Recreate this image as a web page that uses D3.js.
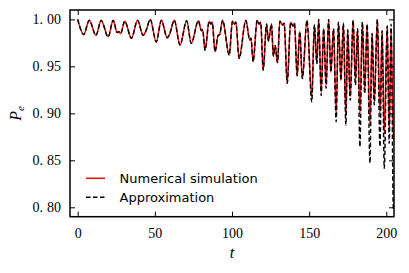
<!DOCTYPE html>
<html>
<head>
<meta charset="utf-8">
<script src="https://cdn.jsdelivr.net/npm/d3@7"></script>
<style>
  body { margin: 0; background: #fff; }
  svg { display: block; }
  .tick text { font-family: "Liberation Serif", serif; font-size: 14px; fill: #000; }
  .legend text { font-family: "DejaVu Sans", sans-serif; font-size: 13px; fill: #000; }
</style>
</head>
<body>
<svg id="chart" width="409" height="273"></svg>
<script>
// turning points (time, value)
const tPoints = [
	0, 3.9, 7.5, 11.8, 15.2, 19.7, 23.0, 25.5, 26.6, 27.8, 30.5, 34.8, 38.8, 42.4, 44.3, 47.0,
	50.9, 54.2, 58.0, 59.5, 62.6, 66.3, 70.6, 73.6, 78.2, 80.2, 81.0, 82.5, 85.2, 86.3, 87.2,
	89.0, 91.0, 92.0, 93.9, 98.2, 100.3, 101.6, 102.5, 104.6, 109.0, 111.5, 112.3, 113.7,
	116.3, 117.6, 118.6, 120.2, 122.4, 123.6, 125.6, 126.8, 128.0, 129.5, 131.0, 133.0, 133.8,
	135.8, 138.0, 139.5, 140.5, 142.2, 143.9, 145.6, 148.6, 151.7, 153.4, 155.0, 156.2, 157.8,
	159.4, 161.0, 162.6, 164.1, 165.8, 167.5, 169.0, 170.6, 172.2, 173.8, 175.0, 176.6, 178.5,
	180.0, 181.4, 182.9, 184.5, 186.0, 187.6, 189.4, 190.8, 192.2, 194.2, 195.9, 197.3, 198.7,
	200.6, 201.9, 203.1, 204.6, 205.5
];

const numerical = [
	1.000, 0.984, 0.999, 0.983, 0.999, 0.9815, 0.999, 0.986, 0.987, 0.985, 0.998, 0.980, 0.999, 0.983, 0.988, 1.000,
	0.976, 0.999, 0.9805, 0.984, 0.999, 0.9727, 0.9985, 0.9745, 0.9985, 0.988, 0.989, 0.967, 0.998, 0.995, 0.997,
	0.9655, 0.983, 0.984, 0.999, 0.962, 0.998, 0.995, 0.997, 0.9585, 0.999, 0.978, 0.980, 0.955,
	0.999, 0.995, 0.997, 0.946, 0.995, 0.977, 0.995, 0.961, 0.972, 0.954, 0.998, 0.994, 0.996,
	0.932, 0.997, 0.993, 0.996, 0.940, 0.987, 0.937, 0.999, 0.918, 0.994, 0.953, 1.000, 0.922,
	0.990, 0.930, 1.000, 0.944, 0.990, 0.900, 0.997, 0.935, 0.996, 0.897, 0.989, 0.918, 0.999,
	0.935, 0.990, 0.900, 0.997, 0.925, 0.995, 0.887, 0.985, 0.912, 1.000, 0.900, 0.988, 0.878,
	0.993, 0.880, 0.990, 0.872, 0.880
];

const approximation = [
	1.000, 0.984, 0.999, 0.983, 0.999, 0.9815, 0.999, 0.986, 0.987, 0.985, 0.998, 0.980, 0.999, 0.983, 0.988, 1.000,
	0.976, 0.999, 0.9805, 0.984, 0.999, 0.9727, 0.9985, 0.9745, 0.9985, 0.988, 0.989, 0.967, 0.998, 0.995, 0.997,
	0.9655, 0.983, 0.984, 0.999, 0.962, 0.998, 0.995, 0.997, 0.9585, 0.999, 0.978, 0.980, 0.955,
	0.999, 0.995, 0.997, 0.946, 0.995, 0.977, 0.995, 0.961, 0.972, 0.954, 0.998, 0.994, 0.996,
	0.932, 0.997, 0.993, 0.996, 0.940, 0.987, 0.937, 0.999, 0.912, 0.994, 0.953, 1.000, 0.919,
	0.990, 0.9266, 1.000, 0.944, 0.990, 0.891, 0.997, 0.935, 0.996, 0.8876, 0.989, 0.914, 0.999,
	0.930, 0.990, 0.8645, 0.997, 0.921, 0.995, 0.847, 0.985, 0.909, 1.000, 0.8645, 0.988, 0.8415,
	0.993, 0.868, 0.995, 0.798, 0.810
];

const xTicks = [0, 50, 100, 150, 200];
const yTicks = [0.80, 0.85, 0.90, 0.95, 1.00];
const legendLabels = ['Numerical simulation', 'Approximation'];

// configs
const MARGIN = { top: 10, right: 15, bottom: 56.3, left: 70 };
const W = 409, H = 273;
const TICK_LEN = 5;
const RED = '#ff0000';
const DASH = '4.5,2.5';

const svg = d3.select('#chart');
const innerW = W - MARGIN.left - MARGIN.right;
const innerH = H - MARGIN.top - MARGIN.bottom;

const x = d3.scaleLinear().domain([-5, 205]).range([0, innerW]);
const y = d3.scaleLinear().domain([0.79, 1.01]).range([innerH, 0]);

const g = svg.append('g').attr('transform', `translate(${MARGIN.left},${MARGIN.top})`);

svg.append('defs').append('clipPath').attr('id', 'plot-clip')
	.append('rect').attr('width', innerW).attr('height', innerH);

// lines
const line = vals => d3.line()
	.x((d, i) => x(tPoints[i]))
	.y(d => y(d))
	.curve(d3.curveMonotoneX)(vals);

const plot = g.append('g').attr('clip-path', 'url(#plot-clip)');
plot.append('path')
	.attr('d', line(numerical))
	.attr('fill', 'none')
	.attr('stroke', RED)
	.attr('stroke-width', 1.5);
plot.append('path')
	.attr('d', line(approximation))
	.attr('fill', 'none')
	.attr('stroke', '#000')
	.attr('stroke-width', 1.4)
	.attr('stroke-dasharray', DASH);

// split "1.00" into "1." + "00" with a small gap like mathtext
function mathNum(sel) {
	sel.selectAll('.tick text').each(function(d) {
		const s = d3.format('.2f')(d);
		const parts = s.split('.');
		const t = d3.select(this).text('');
		t.append('tspan').text(parts[0] + '.');
		t.append('tspan').attr('dx', 4).text(parts[1]);
	});
}

// axes (ticks pointing inward on all four sides)
const styleAxis = sel => {
	sel.select('.domain').remove();
	sel.selectAll('.tick line').attr('stroke', '#000').attr('stroke-width', 1);
};

g.append('g')
	.attr('transform', `translate(0,${innerH})`)
	.call(d3.axisBottom(x).tickValues(xTicks).tickSizeInner(-TICK_LEN).tickSizeOuter(0).tickPadding(11))
	.call(styleAxis);

g.append('g')
	.call(d3.axisTop(x).tickValues(xTicks).tickSizeInner(-TICK_LEN).tickSizeOuter(0).tickFormat(''))
	.call(styleAxis);

g.append('g')
	.call(d3.axisLeft(y).tickValues(yTicks).tickSizeInner(-TICK_LEN).tickSizeOuter(0).tickPadding(9))
	.call(styleAxis)
	.call(mathNum);

g.append('g')
	.attr('transform', `translate(${innerW},0)`)
	.call(d3.axisRight(y).tickValues(yTicks).tickSizeInner(-TICK_LEN).tickSizeOuter(0).tickFormat(''))
	.call(styleAxis);

// frame
g.append('rect')
	.attr('width', innerW).attr('height', innerH)
	.attr('fill', 'none').attr('stroke', '#000').attr('stroke-width', 1.5);

// axis labels
svg.append('text')
	.attr('x', MARGIN.left + innerW / 2)
	.attr('y', 258)
	.attr('text-anchor', 'middle')
	.style('font-family', '"Liberation Serif", serif')
	.style('font-style', 'italic')
	.style('font-size', '16px')
	.text('t');

const yl = svg.append('text')
	.attr('transform', `translate(21,${MARGIN.top + innerH / 2}) rotate(-90)`)
	.attr('text-anchor', 'middle')
	.style('font-family', '"Liberation Serif", serif')
	.style('font-style', 'italic')
	.style('font-size', '16px');
yl.append('tspan').text('P');
yl.append('tspan').attr('dy', 3).style('font-size', '11px').text('e');

// legend (no frame)
const legend = svg.append('g').attr('class', 'legend');
const legendRows = [
	{ label: legendLabels[0], stroke: RED, dash: null, y: 178.3 },
	{ label: legendLabels[1], stroke: '#000', dash: DASH, y: 197.3 }
];
legendRows.forEach(r => {
	legend.append('line')
		.attr('x1', 86).attr('x2', 105)
		.attr('y1', r.y).attr('y2', r.y)
		.attr('stroke', r.stroke)
		.attr('stroke-width', 1.5)
		.attr('stroke-dasharray', r.dash);
	legend.append('text')
		.attr('x', 119.5)
		.attr('y', r.y + 4.6)
		.text(r.label);
});
</script>
</body>
</html>
